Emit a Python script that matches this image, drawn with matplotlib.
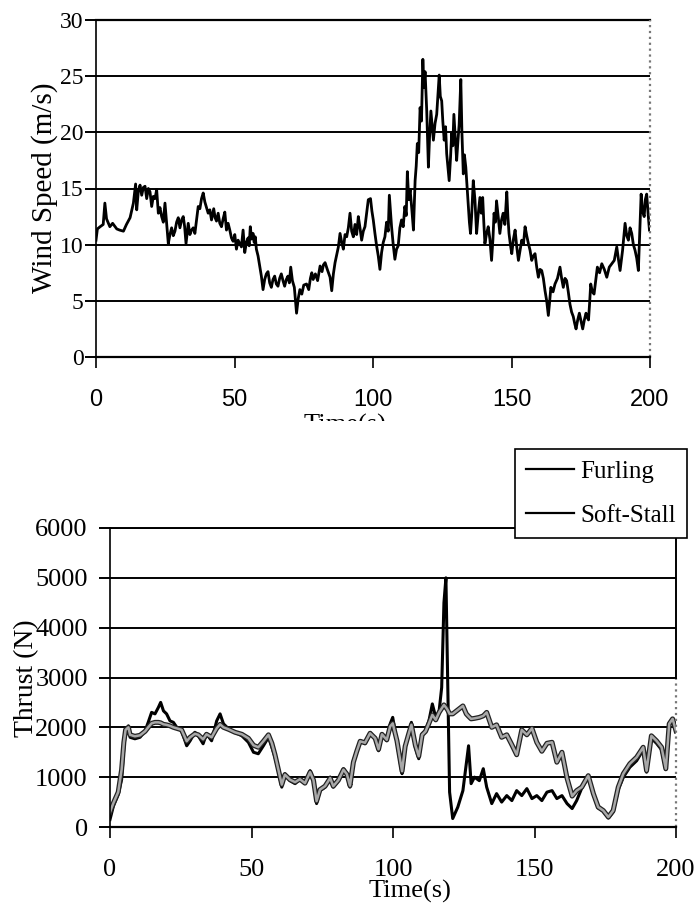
import numpy as np
import matplotlib
matplotlib.use('Agg')
import matplotlib.pyplot as plt
import matplotlib.patheffects as pe
from matplotlib.lines import Line2D
from matplotlib.patches import Rectangle
from matplotlib import font_manager

# Schriften
SERIF = 'Liberation Serif'
names = {f.name for f in font_manager.fontManager.ttflist}
NARROW = 'Liberation Sans Narrow' if 'Liberation Sans Narrow' in names else 'Liberation Sans'

# Windgeschwindigkeit (oben)
wind_t = [0, 0.5, 1.5, 2.6, 3.2, 3.8, 5.0, 6.0, 6.9, 7.5,
          8.5, 9.9, 11.0, 12.3, 13.5, 14.3, 14.7, 15.3, 15.9, 16.5,
          17.1, 17.7, 18.3, 18.9, 19.5, 20.1, 20.7, 21.3, 21.9, 22.5,
          23.1, 23.7, 24.3, 24.9, 25.5, 26.1, 26.7, 27.3, 27.9, 28.5,
          29.1, 29.7, 30.3, 30.9, 31.5, 32.0, 32.5, 33.3, 33.9, 34.5,
          35.1, 35.7, 36.3, 36.9, 37.5, 38.1, 38.7, 39.3, 39.9, 40.5,
          41.1, 41.7, 42.5, 43.0, 43.5, 44.1, 44.7, 45.3, 45.9, 46.5,
          47.1, 47.7, 48.3, 48.9, 49.5, 50.1, 50.7, 51.3, 51.9, 52.5,
          53.1, 53.7, 54.3, 54.9, 55.3, 55.7, 56.2, 56.7, 57.1, 57.5,
          57.9, 58.5, 59.1, 59.7, 60.3, 60.9, 61.5, 62.1, 62.7, 63.3,
          63.9, 64.5, 65.1, 65.7, 66.3, 66.9, 67.5, 68.1, 68.7, 69.3,
          69.8, 70.3, 70.9, 71.6, 72.4, 73.0, 73.6, 74.3, 75.0, 76.0,
          76.8, 77.4, 77.9, 78.4, 79.2, 80.0, 80.9, 81.6, 82.1, 82.7,
          83.5, 84.5, 85.1, 85.7, 86.3, 86.9, 87.5, 88.1, 88.7, 89.3,
          89.9, 90.5, 91.1, 91.7, 92.3, 92.9, 93.5, 94.1, 94.7, 95.3,
          95.9, 96.5, 97.1, 97.7, 98.3, 99.1, 99.6, 100.1, 100.7, 101.3,
          101.9, 102.5, 103.1, 103.7, 104.3, 104.9, 105.5, 105.9, 106.7, 107.3,
          107.9, 108.5, 109.1, 109.7, 110.3, 110.9, 111.5, 112.0, 112.4, 112.9,
          113.4, 114.0, 114.6, 115.2, 115.6, 116.0, 116.5, 117.0, 117.5, 118.0,
          118.4, 118.8, 119.4, 120.0, 120.4, 120.9, 121.4, 121.8, 122.4, 123.0,
          123.5, 123.9, 124.3, 124.8, 125.2, 125.7, 126.2, 126.6, 127.0, 127.5,
          128.0, 128.4, 128.8, 129.2, 129.7, 130.2, 130.6, 131.1, 131.7, 132.1,
          132.6, 133.0, 133.5, 134.0, 134.4, 134.8, 135.2, 135.6, 136.2, 136.8,
          137.4, 137.9, 138.6, 139.1, 139.6, 140.0, 140.4, 141.0, 141.6, 142.2,
          142.8, 143.3, 143.7, 144.2, 144.6, 145.2, 145.8, 146.4, 147.0, 147.6,
          148.3, 148.7, 149.1, 149.6, 150.1, 150.7, 151.3, 151.9, 152.5, 153.1,
          153.7, 154.3, 154.9, 155.5, 156.1, 156.7, 157.3, 157.9, 158.5, 159.1,
          159.7, 160.3, 160.9, 161.5, 162.1, 162.7, 163.3, 163.8, 164.2, 165.0,
          165.7, 166.6, 167.5, 168.1, 168.7, 169.3, 169.9, 170.5, 171.1, 171.7,
          172.3, 172.8, 173.3, 173.9, 174.5, 175.1, 175.7, 176.3, 176.9, 177.4,
          177.8, 178.2, 178.6, 179.2, 179.8, 180.4, 181.0, 181.8, 182.6, 183.5,
          184.4, 185.3, 186.2, 187.1, 188.0, 188.6, 189.2, 190.1, 191.0, 191.6,
          192.2, 192.8, 193.4, 194.0, 194.6, 195.2, 195.8, 196.3, 196.8, 197.3,
          197.9, 198.3, 198.8, 199.3, 199.8]
wind_v = [10.4, 11.4, 11.6, 11.8, 13.7, 12.3, 11.6, 11.9, 11.6, 11.4,
          11.3, 11.2, 11.8, 12.4, 13.7, 15.4, 13.1, 14.8, 15.3, 14.4,
          15.1, 15.2, 14.1, 15.0, 14.7, 13.4, 14.3, 14.1, 14.9, 12.8,
          13.3, 12.5, 12.0, 13.7, 11.9, 10.1, 10.9, 11.5, 10.8, 11.2,
          12.0, 12.4, 11.5, 12.2, 12.5, 11.6, 10.1, 11.9, 10.9, 11.3,
          11.5, 11.0, 12.2, 13.4, 13.2, 14.1, 14.6, 13.8, 13.3, 12.8,
          13.1, 12.2, 13.2, 12.4, 12.1, 12.8, 11.9, 11.6, 12.3, 12.9,
          11.3, 11.9, 11.3, 10.6, 10.3, 10.9, 9.6, 10.4, 10.1, 9.8,
          11.3, 9.3, 10.2, 10.6, 9.9, 11.6, 10.5, 11.0, 10.2, 10.7,
          9.6, 9.0, 8.1, 7.2, 6.0, 6.9, 7.4, 7.6, 6.6, 6.2,
          6.9, 7.2, 6.5, 6.3, 7.0, 7.4, 6.8, 6.3, 6.9, 7.2,
          6.6, 8.0, 6.8, 6.2, 3.9, 5.2, 6.0, 5.6, 6.4, 6.5,
          6.0, 7.0, 7.5, 6.9, 7.4, 6.8, 8.1, 7.6, 8.2, 8.4,
          7.8, 7.1, 5.9, 7.4, 8.4, 9.1, 9.8, 11.0, 10.2, 9.6,
          10.9, 10.7, 11.5, 12.8, 11.2, 10.7, 11.8, 10.9, 12.5, 11.5,
          10.4, 11.2, 11.6, 12.8, 14.0, 14.1, 13.0, 12.2, 11.0, 9.9,
          9.0, 7.8, 9.3, 10.2, 10.7, 12.0, 11.2, 14.4, 11.6, 10.0,
          8.7, 9.6, 9.9, 11.5, 12.2, 11.6, 13.4, 12.6, 16.5, 14.0,
          14.9, 13.2, 11.3, 15.7, 17.0, 19.0, 18.2, 22.2, 21.0, 26.5,
          24.0, 25.4, 21.9, 16.9, 19.5, 21.9, 20.5, 19.3, 20.8, 21.6,
          23.5, 25.1, 23.2, 22.8, 21.0, 19.3, 20.5, 18.1, 17.0, 15.7,
          17.8, 19.9, 18.8, 21.6, 19.5, 17.5, 19.0, 20.7, 24.7, 20.0,
          16.3, 18.0, 16.9, 15.0, 13.4, 12.0, 11.0, 12.5, 15.7, 14.0,
          11.0, 12.5, 14.2, 12.8, 14.2, 12.0, 10.1, 11.0, 11.6, 10.5,
          8.6, 10.5, 12.8, 12.0, 13.9, 12.5, 11.0, 12.2, 12.8, 11.8,
          14.7, 12.5, 11.0, 10.0, 9.2, 10.5, 11.3, 9.8, 8.6, 9.5,
          10.4, 10.0, 11.6, 10.8, 10.1, 9.5, 8.6, 9.0, 9.2, 8.0,
          7.1, 7.8, 7.7, 7.0, 5.9, 5.0, 3.7, 5.0, 6.2, 5.8,
          6.5, 7.0, 8.0, 7.0, 6.2, 7.0, 6.8, 5.8, 4.7, 4.0,
          3.6, 3.0, 2.5, 3.3, 3.9, 3.2, 2.5, 3.3, 3.9, 3.5,
          3.3, 4.8, 6.5, 5.8, 5.6, 6.8, 8.0, 7.5, 8.3, 7.8,
          7.1, 8.0, 8.3, 8.6, 9.8, 8.7, 7.7, 9.5, 11.9, 10.8,
          10.4, 11.5, 11.0, 10.0, 9.5, 8.8, 7.7, 11.0, 14.5, 13.0,
          12.5, 14.0, 14.5, 12.8, 11.3]

# Schub (unten)
thrust_t = [0, 1.2, 2.9, 4.1, 4.9, 5.5, 6.5, 7.1, 8.8, 10.6,
            12.4, 13.5, 14.7, 15.9, 17.1, 17.9, 18.9, 20.0, 21.2, 22.4,
            23.6, 25.3, 27.1, 28.3, 30.0, 31.2, 32.9, 34.1, 35.9, 37.7,
            38.9, 40.1, 41.9, 44.2, 46.6, 48.9, 50.7, 52.4, 54.2, 56.0,
            57.2, 58.3, 59.5, 60.7, 61.8, 63.6, 65.4, 67.1, 68.9, 70.7,
            71.9, 73.0, 74.2, 76.0, 77.8, 78.9, 80.7, 82.5, 83.7, 84.8,
            86.0, 87.2, 88.4, 90.1, 91.9, 93.7, 94.9, 96.1, 97.8, 99.0,
            99.9, 101.4, 102.6, 103.2, 104.3, 105.5, 106.5, 107.9, 109.1, 110.3,
            111.5, 112.7, 113.9, 115.1, 116.3, 117.2, 118.0, 118.7, 119.3, 120.0,
            121.1, 122.9, 124.7, 125.9, 126.7, 127.6, 128.8, 130.5, 131.9, 133.1,
            134.9, 136.6, 138.4, 140.2, 142.0, 143.7, 145.5, 147.3, 149.1, 150.8,
            152.6, 154.4, 156.2, 157.9, 159.7, 161.5, 163.3, 164.9, 166.7, 169.0,
            170.8, 172.5, 174.3, 176.1, 177.8, 179.6, 181.4, 183.7, 186.1, 188.4,
            189.6, 191.3, 193.1, 194.9, 196.4, 197.6, 198.8, 200.0]
furling = [150, 420, 650, 950, 1600, 1930, 2030, 1800, 1770, 1800,
           1930, 2100, 2300, 2270, 2400, 2500, 2330, 2270, 2130, 2100,
           2000, 1930, 1630, 1730, 1900, 1830, 1670, 1870, 1730, 2130,
           2270, 2070, 1970, 1900, 1830, 1700, 1500, 1470, 1630, 1800,
           1600, 1400, 1130, 800, 1070, 930, 870, 970, 870, 1130,
           930, 470, 730, 800, 1000, 800, 930, 1170, 1070, 800,
           1330, 1530, 1730, 1670, 1900, 1770, 1530, 1870, 1730, 2070,
           2200, 1700, 1270, 1070, 1600, 1870, 2100, 1600, 1370, 1870,
           1930, 2130, 2470, 2200, 2330, 2800, 4500, 5000, 3000, 700,
           170, 400, 730, 1270, 1630, 870, 1000, 930, 1170, 800,
           470, 670, 500, 630, 530, 730, 630, 770, 570, 630,
           530, 700, 730, 570, 630, 470, 370, 530, 780, 1000,
           650, 380, 320, 180, 300, 750, 1000, 1200, 1330, 1550,
           1100, 1780, 1680, 1550, 1150, 2050, 2150, 1950]
soft_stall = [300, 480, 700, 1150, 1700, 1950, 2000, 1850, 1820, 1840,
              1920, 2000, 2080, 2100, 2100, 2090, 2060, 2050, 2030, 2000,
              1980, 1950, 1720, 1800, 1870, 1850, 1760, 1860, 1800, 1980,
              2060, 2000, 1960, 1900, 1860, 1780, 1640, 1600, 1720, 1850,
              1680, 1450, 1150, 850, 1050, 950, 900, 960, 880, 1100,
              940, 520, 750, 820, 980, 820, 940, 1150, 1060, 830,
              1300, 1520, 1720, 1690, 1880, 1780, 1560, 1860, 1750, 2020,
              2080, 1730, 1320, 1120, 1620, 1860, 2050, 1640, 1420, 1850,
              1920, 2080, 2250, 2150, 2300, 2380, 2450, 2400, 2350, 2270,
              2270, 2350, 2430, 2270, 2220, 2170, 2180, 2200, 2230, 2300,
              2000, 2050, 1800, 1850, 1650, 1450, 1950, 1850, 1980, 1700,
              1520, 1680, 1700, 1300, 1500, 980, 620, 730, 800, 1030,
              670, 400, 330, 200, 330, 800, 1070, 1270, 1400, 1600,
              1130, 1830, 1730, 1600, 1170, 2070, 2170, 1930]

W, H = 697, 906
def fx(px):
    return px / W
def fy(py):
    return 1 - py / H

fig = plt.figure(figsize=(W / 100, H / 100), dpi=100)
fig.patch.set_facecolor('white')

def rahmen(ax):
    # Gitter schwarz, rechter Rand grau gepunktet
    ax.grid(axis='y', color='black', linewidth=1.4)
    ax.set_axisbelow(True)
    ax.spines['top'].set_visible(False)
    ax.spines['right'].set_visible(False)
    ax.spines['left'].set_linewidth(1.2)
    ax.spines['bottom'].set_linewidth(1.6)
    ax.tick_params(axis='y', length=8, width=1.4, direction='out')
    ax.tick_params(axis='x', length=8, width=1.2, direction='out')

# Oberes Diagramm
ax1 = fig.add_axes([fx(96), fy(357), fx(650 - 96), (357 - 20) / H])
rahmen(ax1)
ax1.plot(wind_t, wind_v, color='black', linewidth=2.0)
ax1.set_xlim(0, 200)
ax1.set_ylim(0, 30)
ax1.set_xticks([0, 50, 100, 150, 200])
ax1.set_yticks([0, 5, 10, 15, 20, 25, 30])
ax1.axhline(30, color='black', linewidth=1.6, clip_on=False)
ax1.axvline(200, color='#777777', linestyle=':', linewidth=1.6, clip_on=False)
ax1.tick_params(axis='y', pad=1)
ax1.tick_params(axis='x', pad=15)
for lab in ax1.get_yticklabels():
    lab.set_fontfamily(SERIF)
    lab.set_fontsize(17)
for lab in ax1.get_xticklabels():
    lab.set_fontfamily(NARROW)
    lab.set_fontsize(17)
fig.text(fx(45), fy(188), 'Wind Speed (m/s)', rotation=90, ha='center', va='center',
         fontsize=21, family=SERIF)
fig.text(fx(345), fy(425), 'Time(s)', ha='center', va='center', fontsize=19, family=SERIF)
# unterer Teil der Beschriftung abgeschnitten wie im Original
fig.patches.append(Rectangle((0, fy(440)), 1, fy(421) - fy(440), transform=fig.transFigure,
                             facecolor='white', edgecolor='none', zorder=10))

# Unteres Diagramm
ax2 = fig.add_axes([fx(110), fy(827), fx(676 - 110), (827 - 528) / H])
rahmen(ax2)
ax2.plot(thrust_t, furling, color='black', linewidth=2.2)
ax2.plot(thrust_t, soft_stall, color='#a8a8a8', linewidth=1.8,
         path_effects=[pe.Stroke(linewidth=3.6, foreground='#222222'), pe.Normal()])
ax2.set_xlim(0, 200)
ax2.set_ylim(0, 6000)
ax2.set_xticks([0, 50, 100, 150, 200])
ax2.set_yticks([0, 1000, 2000, 3000, 4000, 5000, 6000])
ax2.axhline(6000, color='black', linewidth=1.4, clip_on=False)
ax2.axvline(200, 0, 0.5, color='#777777', linestyle=':', linewidth=1.6, clip_on=False)
ax2.axvline(200, 0.5, 0.98, color='black', linewidth=1.4, clip_on=False)
ax2.tick_params(axis='y', pad=8)
ax2.tick_params(axis='x', pad=15)
for lab in ax2.get_yticklabels() + ax2.get_xticklabels():
    lab.set_fontfamily(SERIF)
    lab.set_fontsize(19)
fig.text(fx(27), fy(678), 'Thrust (N)', rotation=90, ha='center', va='center',
         fontsize=20, family=SERIF)
fig.text(fx(410), fy(891), 'Time(s)', ha='center', va='center', fontsize=19, family=SERIF)

# Legende (beide Linien schwarz wie im Original)
handles = [Line2D([], [], color='black', linewidth=1.6),
           Line2D([], [], color='black', linewidth=1.6)]
leg = fig.legend(handles, ['Furling', 'Soft-Stall'], loc='upper right',
                 bbox_to_anchor=(fx(687), fy(449)), bbox_transform=fig.transFigure,
                 borderaxespad=0, fancybox=False, framealpha=1, edgecolor='black',
                 prop={'family': SERIF, 'size': 18}, handlelength=1.9, handletextpad=0.25,
                 labelspacing=0.85, borderpad=0.45)
leg.get_frame().set_linewidth(1.2)
leg.set_zorder(20)

fig.savefig('out.png', dpi=100, facecolor='white')
